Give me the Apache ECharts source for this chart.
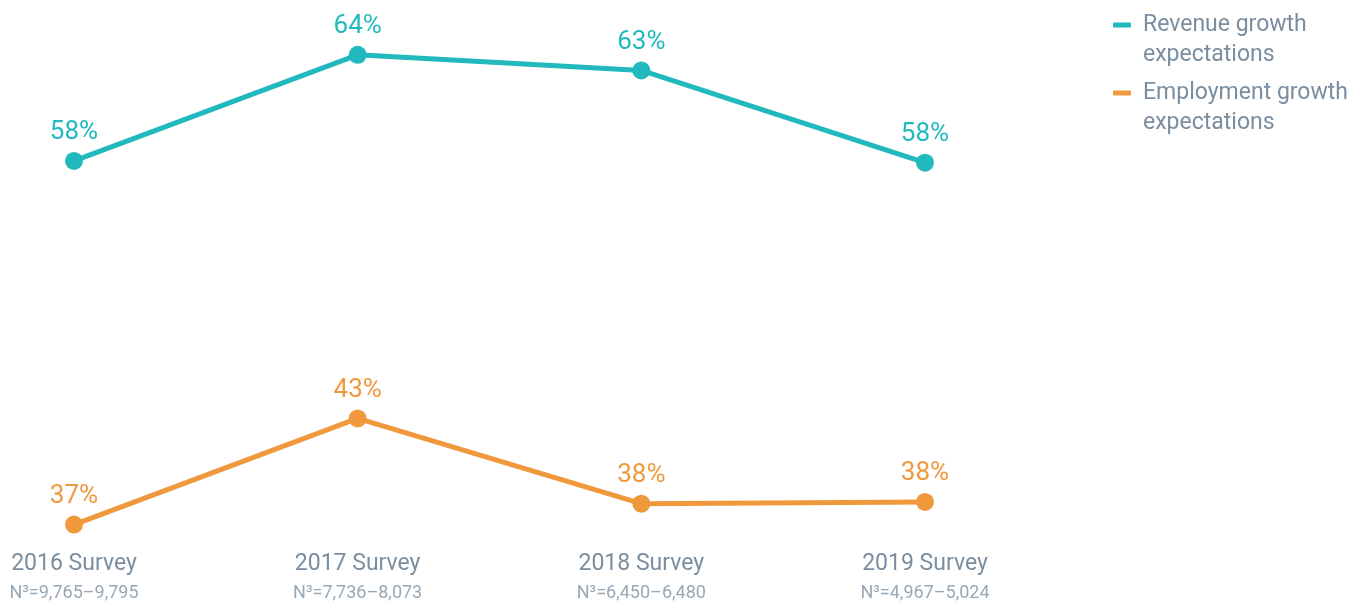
<!DOCTYPE html>
<html>
<head>
<meta charset="utf-8">
<script src="https://cdn.jsdelivr.net/npm/echarts@6/dist/echarts.min.js"></script>
<style>
  html, body { margin: 0; padding: 0; background: #fff; }
  #main { width: 1366px; height: 602px; }
</style>
</head>
<body>
<div id="main"></div>
<script>
// survey years and sample sizes
var surveys = ['2016 Survey', '2017 Survey', '2018 Survey', '2019 Survey'];
var sampleSizes = ['N³=9,765–9,795', 'N³=7,736–8,073', 'N³=6,450–6,480', 'N³=4,967–5,024'];

// percent of respondents
var revenueGrowth = [57.9, 64.0, 63.1, 57.8];
var employmentGrowth = [37.0, 43.1, 38.2, 38.3];

var teal = '#21b9be';
var orange = '#f0983c';
var grey = '#7a8ea0';

var myChart = echarts.init(document.getElementById('main'));

function lineSeries(name, data, color) {
    return {
        name: name,
        type: 'line',
        data: data,
        symbol: 'circle',
        symbolSize: 18,
        lineStyle: { width: 5, color: color },
        itemStyle: { color: color },
        label: {
            show: true,
            position: 'top',
            distance: 6,
            color: color,
            fontSize: 26,
            fontFamily: 'Roboto',
            formatter: function (p) {
                return Math.round(p.value) + '%';
            }
        }
    };
}

var option = {
    animation: false,
    backgroundColor: '#fff',
    grid: { left: 74, right: 441, top: 20, bottom: 60 },
    legend: {
        orient: 'vertical',
        left: 1113,
        top: -20,
        padding: 0,
        itemGap: -22,
        itemWidth: 18,
        itemHeight: 5,
        icon: 'roundRect',
        data: [
            { name: 'Revenue growth\nexpectations', itemStyle: { color: teal } },
            { name: 'Employment growth\nexpectations', itemStyle: { color: orange } }
        ],
        // blank first line so the icon sits beside the first line of text
        formatter: function (name) {
            return ' \n' + name;
        },
        textStyle: {
            color: grey,
            fontSize: 23,
            fontFamily: 'Roboto',
            lineHeight: 30,
            padding: [0, 0, 0, 7]
        }
    },
    xAxis: {
        type: 'category',
        data: surveys,
        boundaryGap: false,
        axisLine: { show: false },
        axisTick: { show: false },
        splitLine: { show: false },
        axisLabel: {
            margin: 8,
            formatter: function (value, idx) {
                return '{a|' + value + '}\n{b|' + sampleSizes[idx] + '}';
            },
            rich: {
                a: { fontSize: 23, fontFamily: 'Roboto', color: grey, lineHeight: 28 },
                b: { fontSize: 18, fontFamily: 'Roboto', color: '#98a8b6', lineHeight: 30 }
            }
        }
    },
    yAxis: {
        type: 'value',
        min: 36,
        max: 66,
        show: false,
        splitLine: { show: false }
    },
    series: [
        lineSeries('Revenue growth\nexpectations', revenueGrowth, teal),
        lineSeries('Employment growth\nexpectations', employmentGrowth, orange)
    ]
};

myChart.setOption(option);
</script>
</body>
</html>
